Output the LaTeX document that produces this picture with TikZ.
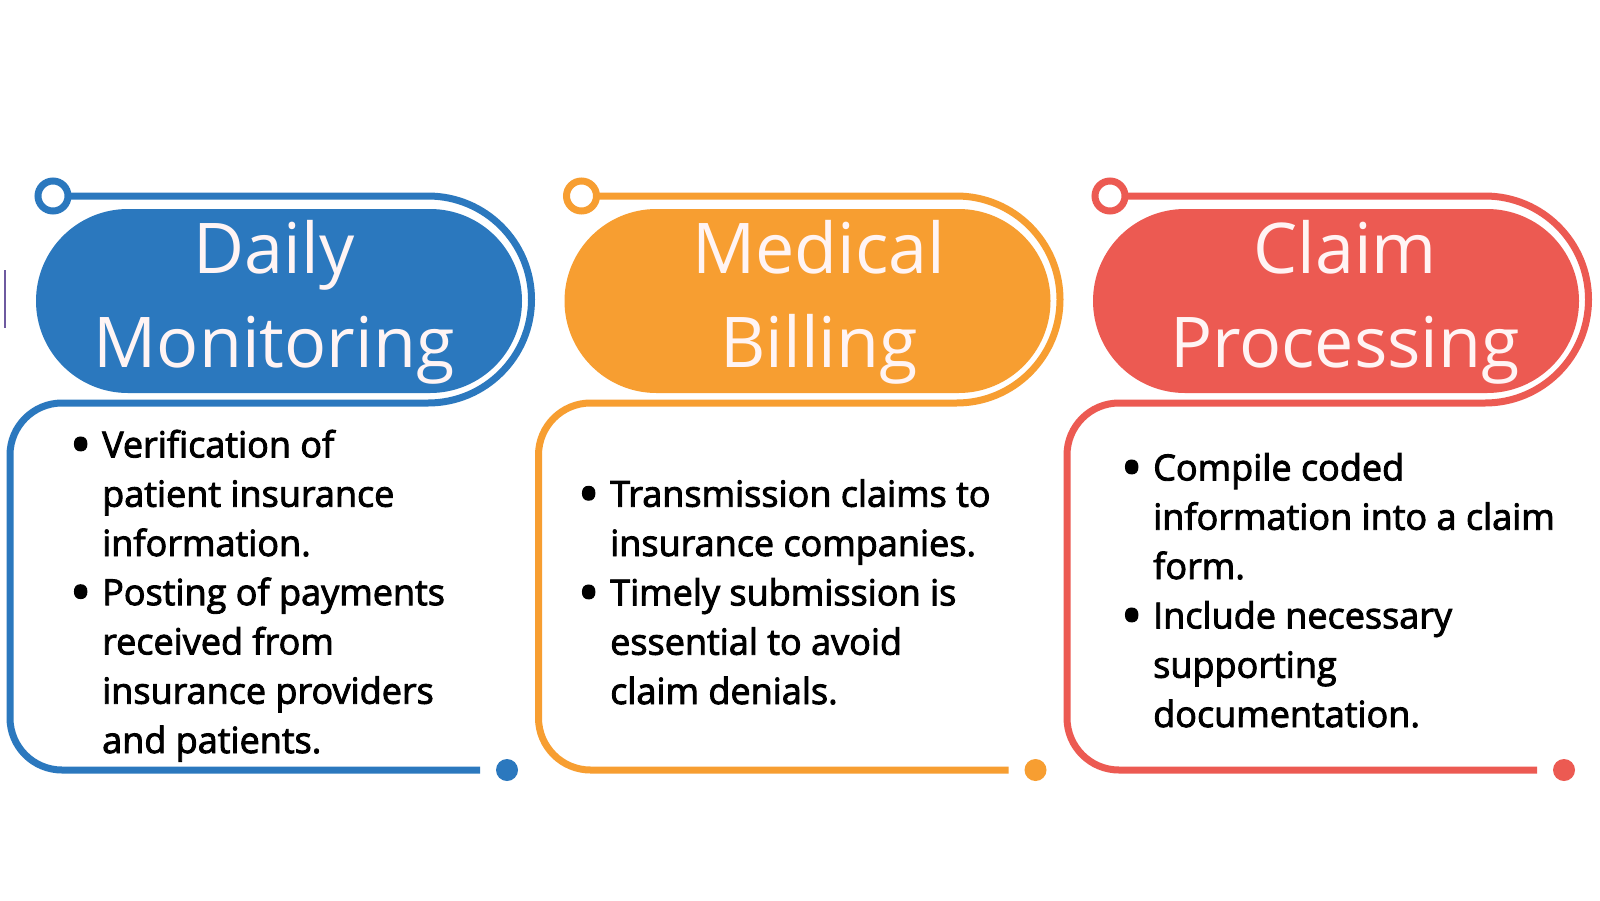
\documentclass[tikz,border=0pt]{standalone}
\usepackage{fontspec}
\setmainfont{Open Sans}
\newfontfamily\bodyfont{Open Sans}[FakeBold=2.5]
\usepackage{xcolor}
\definecolor{dmblue}{HTML}{2B78BE}
\definecolor{mborange}{HTML}{F79E31}
\definecolor{cpred}{HTML}{EC5A52}
\definecolor{titlewhite}{HTML}{FFF4F4}
\definecolor{markpurple}{HTML}{6E5AA0}
\newcommand\itembul{\llap{\raisebox{-7pt}{\fontsize{56}{56}\selectfont\textbullet}\hspace{11pt}}}
\tikzset{
  titletext/.style={text=titlewhite, font=\fontsize{70}{94}\selectfont, inner sep=0pt, anchor=base},
  bodytext/.style={font=\bodyfont\fontsize{36}{49.3}\selectfont, align=left, inner sep=0pt, anchor=base west}
}

\begin{document}
\begin{tikzpicture}[x=1pt,y=1pt]
\useasboundingbox (0,0) rectangle (1600,-900);
\fill[white] (0,0) rectangle (1600,-900);
\draw[markpurple, line width=2pt] (5,-270) -- (5,-328);
% frames, pills and end dots
\foreach \dx/\col in {0/dmblue, 528.5/mborange, 1057/cpred}{
  \fill[\col, rounded corners=92pt] ({36+\dx},-209) rectangle ({522+\dx},-393);
  \draw[\col, line width=7pt] ({53+\dx},-196) circle (15);
  \draw[\col, line width=7pt] ({68+\dx},-196) -- ({428+\dx},-196) arc (90:-90:103.5)
    -- ({62+\dx},-403) arc (90:180:52) -- ({10+\dx},-718) arc (180:270:52) -- ({480+\dx},-770);
  \fill[\col] ({507+\dx},-770) circle (11);
}
% titles
\node[titletext] (dmt1) at (274,-273) {Daily};
\node[titletext] (dmt2) at (274,-367) {Monitoring};
\node[titletext] (mbt1) at (819,-273) {Medical};
\node[titletext] (mbt2) at (819,-367) {Billing};
\node[titletext] (cpt1) at (1345,-273) {Claim};
\node[titletext] (cpt2) at (1345,-367) {Processing};
% bullet texts (anchored at the last line)
\node[bodytext] (dm1) at (102,-556) {\itembul Verification of\\patient insurance\\information.};
\node[bodytext] (dm2) at (102,-753) {\itembul Posting of payments\\received from\\insurance providers\\and patients.};
\node[bodytext] (mb1) at (610,-556) {\itembul Transmission claims to\\insurance companies.};
\node[bodytext] (mb2) at (610,-704) {\itembul Timely submission is\\essential to avoid\\claim denials.};
\node[bodytext] (cp1) at (1153,-579) {\itembul Compile coded\\information into a claim\\form.};
\node[bodytext] (cp2) at (1153,-727) {\itembul Include necessary\\supporting\\documentation.};
\end{tikzpicture}
\end{document}
